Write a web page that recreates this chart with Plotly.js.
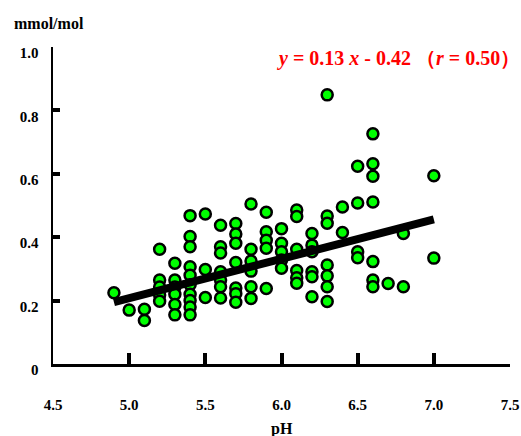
<!DOCTYPE html>
<html>
<head>
<meta charset="utf-8">
<script src="https://cdn.plot.ly/plotly-3.0.1.min.js"></script>
<style>html,body{margin:0;padding:0;background:#fff;}</style>
</head>
<body>
<div id="chart" style="width:521px;height:436px;"></div>
<script>
// Scatter data: pH vs mmol/mol
const phValues = [
  4.9,
  5.0,
  5.1, 5.1,
  5.2, 5.2, 5.2, 5.2, 5.2,
  5.3, 5.3, 5.3, 5.3, 5.3, 5.3,
  5.4, 5.4, 5.4, 5.4, 5.4, 5.4, 5.4, 5.4, 5.4, 5.4,
  5.5, 5.5, 5.5,
  5.6, 5.6, 5.6, 5.6, 5.6, 5.6, 5.6,
  5.7, 5.7, 5.7, 5.7, 5.7, 5.7, 5.7,
  5.8, 5.8, 5.8, 5.8, 5.8, 5.8,
  5.9, 5.9, 5.9, 5.9, 5.9,
  6.0, 6.0, 6.0, 6.0, 6.0,
  6.1, 6.1, 6.1, 6.1, 6.1, 6.1,
  6.2, 6.2, 6.2, 6.2, 6.2, 6.2,
  6.3, 6.3, 6.3, 6.3, 6.3, 6.3, 6.3,
  6.4, 6.4,
  6.5, 6.5, 6.5, 6.5,
  6.6, 6.6, 6.6, 6.6, 6.6, 6.6, 6.6,
  6.7,
  6.8, 6.8,
  7.0, 7.0
];
const mmolValues = [
  0.225,
  0.17,
  0.173, 0.137,
  0.362, 0.265, 0.243, 0.218, 0.198,
  0.318, 0.265, 0.243, 0.22, 0.188, 0.155,
  0.468, 0.402, 0.37, 0.307, 0.28, 0.25, 0.22, 0.2, 0.18, 0.155,
  0.473, 0.298, 0.21,
  0.438, 0.37, 0.35, 0.291, 0.265, 0.244, 0.208,
  0.443, 0.41, 0.381, 0.32, 0.24, 0.222, 0.195,
  0.505, 0.362, 0.325, 0.293, 0.244, 0.207,
  0.479, 0.417, 0.39, 0.365, 0.238,
  0.427, 0.381, 0.354, 0.328, 0.302,
  0.486, 0.465, 0.362, 0.295, 0.272, 0.255,
  0.412, 0.375, 0.354, 0.291, 0.275, 0.212,
  0.849, 0.467, 0.444, 0.312, 0.278, 0.244, 0.197,
  0.495, 0.415,
  0.624, 0.508, 0.354, 0.335,
  0.726, 0.632, 0.592, 0.511, 0.323, 0.265, 0.244,
  0.254,
  0.412, 0.244,
  0.594, 0.334
];
// Fitted line endpoints (as drawn)
const fitX = [4.9, 7.0];
const fitY = [0.195, 0.456];

const xTickVals = [4.5, 5.0, 5.5, 6.0, 6.5, 7.0, 7.5];
const xTickText = ["4.5", "5.0", "5.5", "6.0", "6.5", "7.0", "7.5"];
const yTickVals = [0, 0.2, 0.4, 0.6, 0.8, 1.0];
const yTickText = ["0", "0.2", "0.4", "0.6", "0.8", "1.0"];

const yAxisLabel = "mmol/mol";
const xAxisLabel = "pH";
const equationText = "<i>y</i> = 0.13 <i>x</i> - 0.42 （<i>r</i> = 0.50）";

const serif = "'Liberation Serif', 'Times New Roman', serif";

const traces = [
  {
    x: phValues, y: mmolValues, type: "scatter", mode: "markers",
    marker: {color: "#00ff00", size: 11, line: {color: "#000", width: 2.5}},
    hoverinfo: "x+y", showlegend: false, cliponaxis: false
  },
  {
    x: fitX, y: fitY, type: "scatter", mode: "lines",
    line: {color: "#000", width: 8}, showlegend: false, hoverinfo: "skip"
  }
];

const layout = {
  width: 521, height: 436,
  margin: {l: 53, r: 11, t: 47, b: 72},
  paper_bgcolor: "#fff", plot_bgcolor: "#fff",
  showlegend: false,
  font: {family: serif},
  xaxis: {
    range: [4.5, 7.5], tickvals: xTickVals, ticktext: xTickText,
    ticks: "inside", ticklen: 11, tickwidth: 4, tickcolor: "#000",
    showline: true, linecolor: "#000", linewidth: 2.5,
    showgrid: false, zeroline: false,
    ticklabelstandoff: 25,
    tickfont: {family: serif, size: 15, color: "#000", weight: "bold"},
    fixedrange: true
  },
  yaxis: {
    range: [0, 1.0], tickvals: yTickVals, ticktext: yTickText,
    ticks: "inside", ticklen: 7, tickwidth: 4, tickcolor: "#000",
    showline: true, linecolor: "#000", linewidth: 2.5,
    showgrid: false, zeroline: false,
    ticklabelstandoff: 9, ticklabelshift: 6,
    tickfont: {family: serif, size: 15, color: "#000", weight: "bold"},
    fixedrange: true
  },
  annotations: [
    {
      text: yAxisLabel, xref: "paper", yref: "paper",
      x: -0.09, y: 1.075, xanchor: "left", yanchor: "middle", showarrow: false,
      font: {family: serif, size: 16, color: "#000", weight: "bold"}
    },
    {
      text: xAxisLabel, xref: "paper", yref: "paper",
      x: 0.5, y: -0.205, xanchor: "center", yanchor: "middle", showarrow: false,
      font: {family: serif, size: 16, color: "#000", weight: "bold"}
    },
    {
      text: equationText, xref: "paper", yref: "paper",
      x: 1.0, y: 0.965, xanchor: "right", yanchor: "middle", showarrow: false,
      xshift: 12,
      font: {family: serif, size: 20, color: "#ff0000", weight: "bold"}
    }
  ]
};

Plotly.newPlot("chart", traces, layout, {displayModeBar: false, staticPlot: true});
</script>
</body>
</html>
